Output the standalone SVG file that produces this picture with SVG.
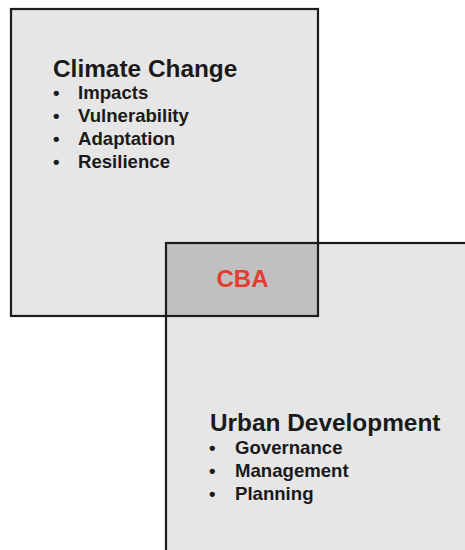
<svg xmlns="http://www.w3.org/2000/svg" width="465" height="550" viewBox="0 0 465 550">
<style>
.fill{fill:#e6e6e6;stroke:none}
.outline{fill:none;stroke:#1c1c1c;stroke-width:2.2}
.title{font-family:"Liberation Sans",Arial,sans-serif;font-weight:bold;font-size:24.4px;fill:#1a1a1a}
.item{font-family:"Liberation Sans",Arial,sans-serif;font-weight:bold;font-size:18.6px;fill:#1a1a1a}
.cba{font-family:"Liberation Sans",Arial,sans-serif;font-weight:bold;font-size:24px;fill:#e43d30}
</style>
<rect width="465" height="550" fill="#ffffff"/>
<g id="climate-change">
<rect class="fill" x="11" y="9" width="307" height="307"/>
</g>
<g id="urban-development">
<rect class="fill" x="166" y="243" width="310" height="320"/>
</g>
<g id="cba">
<rect x="166" y="243" width="152" height="73" fill="#c0c0c0"/>
</g>
<g id="outlines">
<rect class="outline" x="11" y="9" width="307" height="307"/>
<rect class="outline" x="166" y="243" width="310" height="320"/>
</g>
<g id="climate-text">
<text class="title" x="53" y="77">Climate Change</text>
<text class="item" x="53" y="99">•</text><text class="item" x="78" y="99">Impacts</text>
<text class="item" x="53" y="122">•</text><text class="item" x="78" y="122">Vulnerability</text>
<text class="item" x="53" y="145">•</text><text class="item" x="78" y="145">Adaptation</text>
<text class="item" x="53" y="168">•</text><text class="item" x="78" y="168">Resilience</text>
</g>
<g id="cba-text">
<text class="cba" x="242.5" y="287" text-anchor="middle">CBA</text>
</g>
<g id="urban-text">
<text class="title" x="210" y="431">Urban Development</text>
<text class="item" x="209" y="454">•</text><text class="item" x="235" y="454">Governance</text>
<text class="item" x="209" y="477">•</text><text class="item" x="235" y="477">Management</text>
<text class="item" x="209" y="500">•</text><text class="item" x="235" y="500">Planning</text>
</g>
<g id="connectors"></g>
</svg>
